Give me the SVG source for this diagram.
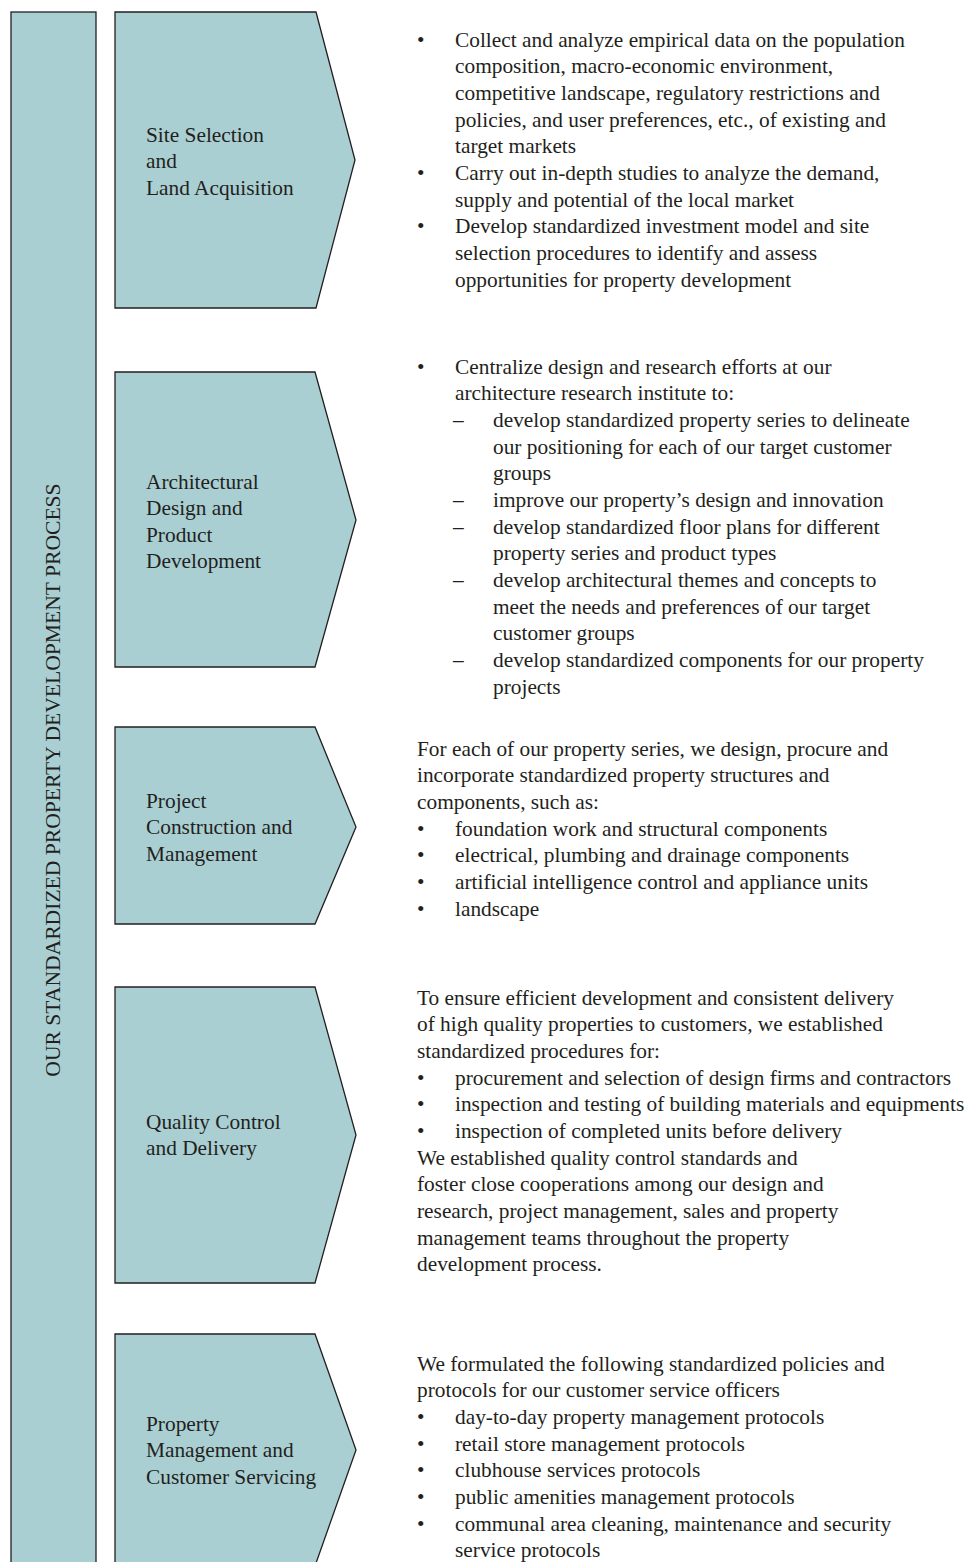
<svg xmlns="http://www.w3.org/2000/svg" width="965" height="1562" viewBox="0 0 965 1562">
<style>
.shape{fill:#aacfd3;stroke:#231f20;stroke-width:1.3}
text{font-family:"Liberation Serif","Times New Roman",serif;font-size:21.35px;fill:#231f20}
</style>
<rect x="0" y="0" width="965" height="1562" fill="#ffffff"/>
<g id="process-bar">
<rect class="shape" x="11" y="12" width="85" height="1570"/>
<text transform="translate(60,780) rotate(-90)" text-anchor="middle" style="font-size:21.6px">OUR STANDARDIZED PROPERTY DEVELOPMENT PROCESS</text>
</g>
<g id="step1">
<polygon class="shape" points="115,12 316,12 355,160 316,308 115,308"/>
<text x="146" y="141.5">Site Selection</text>
<text x="146" y="168.2">and</text>
<text x="146" y="194.8">Land Acquisition</text>
</g>
<g id="step2">
<polygon class="shape" points="115,372 315,372 356,520 315,667 115,667"/>
<text x="146" y="488.5">Architectural</text>
<text x="146" y="515">Design and</text>
<text x="146" y="541.5">Product</text>
<text x="146" y="568">Development</text>
</g>
<g id="step3">
<polygon class="shape" points="115,727 315,727 356,827 315,924 115,924"/>
<text x="146" y="807.5">Project</text>
<text x="146" y="834">Construction and</text>
<text x="146" y="860.5">Management</text>
</g>
<g id="step4">
<polygon class="shape" points="115,987 315,987 356,1135 315,1283 115,1283"/>
<text x="146" y="1128.5">Quality Control</text>
<text x="146" y="1155">and Delivery</text>
</g>
<g id="step5">
<polygon class="shape" points="115,1334 315,1334 356,1450 315,1566 115,1566"/>
<text x="146" y="1430.5">Property</text>
<text x="146" y="1457">Management and</text>
<text x="146" y="1483.5">Customer Servicing</text>
</g>
<g id="desc1">
<text x="417" y="46.5">•</text>
<text x="455" y="46.5">Collect and analyze empirical data on the population</text>
<text x="455" y="73.2">composition, macro-economic environment,</text>
<text x="455" y="99.8">competitive landscape, regulatory restrictions and</text>
<text x="455" y="126.5">policies, and user preferences, etc., of existing and</text>
<text x="455" y="153.2">target markets</text>
<text x="417" y="179.8">•</text>
<text x="455" y="179.8">Carry out in-depth studies to analyze the demand,</text>
<text x="455" y="206.5">supply and potential of the local market</text>
<text x="417" y="233.2">•</text>
<text x="455" y="233.2">Develop standardized investment model and site</text>
<text x="455" y="259.8">selection procedures to identify and assess</text>
<text x="455" y="286.5">opportunities for property development</text>
</g>
<g id="desc2">
<text x="417" y="373.5">•</text>
<text x="455" y="373.5">Centralize design and research efforts at our</text>
<text x="455" y="400.2">architecture research institute to:</text>
<text x="453" y="426.8">–</text>
<text x="493" y="426.8">develop standardized property series to delineate</text>
<text x="493" y="453.5">our positioning for each of our target customer</text>
<text x="493" y="480.2">groups</text>
<text x="453" y="506.8">–</text>
<text x="493" y="506.8">improve our property’s design and innovation</text>
<text x="453" y="533.5">–</text>
<text x="493" y="533.5">develop standardized floor plans for different</text>
<text x="493" y="560.2">property series and product types</text>
<text x="453" y="586.8">–</text>
<text x="493" y="586.8">develop architectural themes and concepts to</text>
<text x="493" y="613.5">meet the needs and preferences of our target</text>
<text x="493" y="640.2">customer groups</text>
<text x="453" y="666.8">–</text>
<text x="493" y="666.8">develop standardized components for our property</text>
<text x="493" y="693.5">projects</text>
</g>
<g id="desc3">
<text x="417" y="755.5">For each of our property series, we design, procure and</text>
<text x="417" y="782.2">incorporate standardized property structures and</text>
<text x="417" y="808.8">components, such as:</text>
<text x="417" y="835.5">•</text>
<text x="455" y="835.5">foundation work and structural components</text>
<text x="417" y="862.2">•</text>
<text x="455" y="862.2">electrical, plumbing and drainage components</text>
<text x="417" y="888.8">•</text>
<text x="455" y="888.8">artificial intelligence control and appliance units</text>
<text x="417" y="915.5">•</text>
<text x="455" y="915.5">landscape</text>
</g>
<g id="desc4">
<text x="417" y="1004.5">To ensure efficient development and consistent delivery</text>
<text x="417" y="1031.2">of high quality properties to customers, we established</text>
<text x="417" y="1057.8">standardized procedures for:</text>
<text x="417" y="1084.5">•</text>
<text x="455" y="1084.5">procurement and selection of design firms and contractors</text>
<text x="417" y="1111.2">•</text>
<text x="455" y="1111.2">inspection and testing of building materials and equipments</text>
<text x="417" y="1137.8">•</text>
<text x="455" y="1137.8">inspection of completed units before delivery</text>
<text x="417" y="1164.5">We established quality control standards and</text>
<text x="417" y="1191.2">foster close cooperations among our design and</text>
<text x="417" y="1217.8">research, project management, sales and property</text>
<text x="417" y="1244.5">management teams throughout the property</text>
<text x="417" y="1271.2">development process.</text>
</g>
<g id="desc5">
<text x="417" y="1370.5">We formulated the following standardized policies and</text>
<text x="417" y="1397.2">protocols for our customer service officers</text>
<text x="417" y="1423.8">•</text>
<text x="455" y="1423.8">day-to-day property management protocols</text>
<text x="417" y="1450.5">•</text>
<text x="455" y="1450.5">retail store management protocols</text>
<text x="417" y="1477.2">•</text>
<text x="455" y="1477.2">clubhouse services protocols</text>
<text x="417" y="1503.8">•</text>
<text x="455" y="1503.8">public amenities management protocols</text>
<text x="417" y="1530.5">•</text>
<text x="455" y="1530.5">communal area cleaning, maintenance and security</text>
<text x="455" y="1557.2">service protocols</text>
</g>
<g id="connectors"></g>
</svg>
